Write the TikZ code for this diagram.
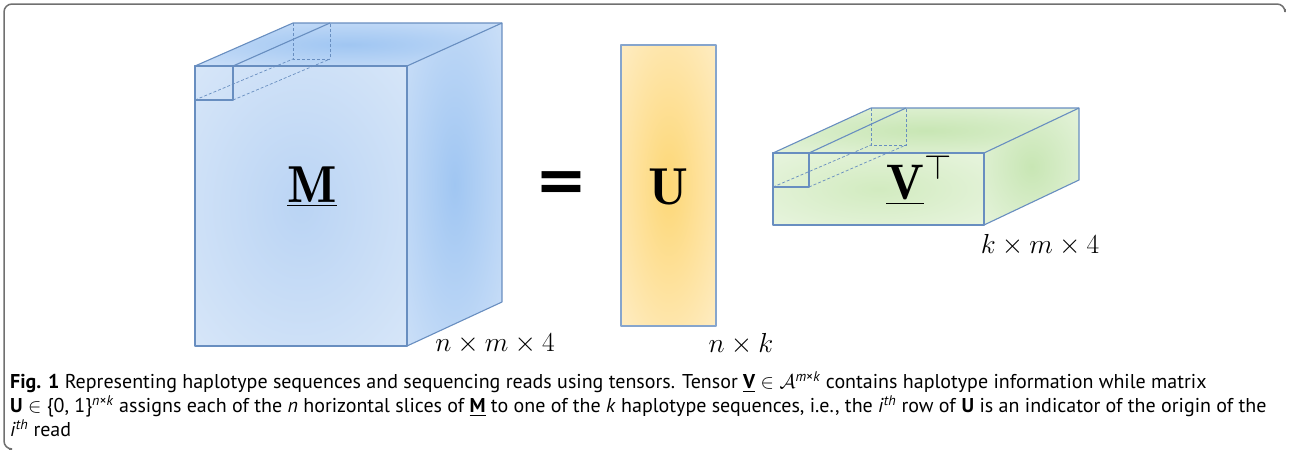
\RequirePackage{fix-cm}
\documentclass[tikz,border=0pt]{standalone}
\usepackage{fontspec}
\setsansfont{PT Sans}
\newfontfamily\eqfont{DejaVu Sans}
\usepackage{amsmath}
\usepackage{tikz}
\usetikzlibrary{positioning,calc}
\definecolor{TenEdge}{RGB}{104,142,192}
\definecolor{TenFrame}{RGB}{112,112,112}
\definecolor{MFrontIn}{RGB}{186,212,244}
\definecolor{MFrontOut}{RGB}{226,237,250}
\definecolor{MSideIn}{RGB}{160,198,242}
\definecolor{MSideOut}{RGB}{220,233,250}
\definecolor{VFrontIn}{RGB}{210,235,192}
\definecolor{VFrontOut}{RGB}{240,248,234}
\definecolor{VSideIn}{RGB}{200,230,180}
\definecolor{UGoldIn}{RGB}{253,215,118}
\definecolor{UGoldOut}{RGB}{255,245,226}
\pgfdeclareradialshading{mfront}{\pgfpoint{0bp}{0bp}}{color(0bp)=(MFrontIn); color(50bp)=(MFrontOut); color(72bp)=(MFrontOut)}
\pgfdeclareradialshading{mside}{\pgfpoint{0bp}{0bp}}{color(0bp)=(MSideIn); color(50bp)=(MSideOut); color(72bp)=(MSideOut)}
\pgfdeclareradialshading{vfront}{\pgfpoint{0bp}{0bp}}{color(0bp)=(VFrontIn); color(50bp)=(VFrontOut); color(72bp)=(VFrontOut)}
\pgfdeclareradialshading{vside}{\pgfpoint{0bp}{0bp}}{color(0bp)=(VSideIn); color(50bp)=(VFrontOut); color(72bp)=(VFrontOut)}
\pgfdeclareradialshading{ugold}{\pgfpoint{0bp}{0bp}}{color(0bp)=(UGoldIn); color(50bp)=(UGoldOut); color(72bp)=(UGoldOut)}

\begin{document}
\begin{tikzpicture}[x=1pt, y=-1pt]
  \tikzstyle{edge} = [draw=TenEdge, line width=1.1pt, line join=round]
  \tikzstyle{slice} = [draw=TenEdge, line width=0.7pt, densely dashed]
  \tikzstyle{bigsym} = [font=\fontsize{52}{52}\selectfont, inner sep=0pt]
  \tikzstyle{dims} = [font=\fontsize{27.5}{27.5}\selectfont, inner sep=0pt]
  \useasboundingbox (0,0) rectangle (1289,451);

  % frame round the figure
  \draw[TenFrame, line width=1.5pt, rounded corners=8pt] (1285,9) |- (4,4) |- (9,449);

  % tensor M
  \coordinate (mf) at (195,66);
  \coordinate (mb) at (293,23);
  \shade[shading=mfront] (mf) rectangle (407,346);
  \shade[shading=mside] (407,66) -- (502,23) -- (502,302) -- (407,346) -- cycle;
  \shade[shading=mside] (mf) -- (mb) -- (502,23) -- (407,66) -- cycle;
  \path[edge] (mf) rectangle (407,346);
  \path[edge] (407,66) -- (502,23) -- (502,302) -- (407,346);
  \path[edge] (mf) -- (mb) -- (502,23);
  \path[edge] (mf) rectangle (233,100);
  \path[edge] (233,66) -- (330,23);
  \path[slice] (mb) -- (293,59) -- (330,59) -- (330,23);
  \path[slice] (195,100) -- (293,59);
  \path[slice] (233,100) -- (330,59);
  \node[bigsym] (mlabel) at (312,187) {$\underline{\mathbf{M}}$};
  \node[dims] (mdims) at (495,344) {$n \times m \times 4$};

  \node[font=\fontsize{62}{62}\selectfont\eqfont\bfseries, inner sep=0pt] (equals) at (561,187) {=};

  % matrix U
  \shade[shading=ugold] (621,45) rectangle (716,326);
  \path[edge, draw=TenEdge!80] (621,45) rectangle (716,326);
  \node[bigsym] (ulabel) at (668,187) {$\mathbf{U}$};
  \node[dims] (udims) at (741,344) {$n \times k$};

  % tensor V
  \coordinate (vf) at (773,153);
  \coordinate (vb) at (871,108);
  \shade[shading=vfront] (vf) rectangle (984,225);
  \shade[shading=vside] (984,153) -- (1079,108) -- (1079,180) -- (984,225) -- cycle;
  \shade[shading=vside] (vf) -- (vb) -- (1079,108) -- (984,153) -- cycle;
  \path[edge] (vf) rectangle (984,225);
  \path[edge] (984,153) -- (1079,108) -- (1079,180) -- (984,225);
  \path[edge] (vf) -- (vb) -- (1079,108);
  \path[edge] (vf) rectangle (809,187);
  \path[edge] (809,153) -- (906,108);
  \path[slice] (vb) -- (871,145) -- (906,145) -- (906,108);
  \path[slice] (773,187) -- (871,145);
  \path[slice] (809,187) -- (906,145);
  \node[bigsym, font=\fontsize{50}{50}\selectfont] (vlabel) at (919,180) {$\underline{\mathbf{V}}^{\top}$};
  \node[dims] (vdims) at (1040,245) {$k \times m \times 4$};

  % caption
  \node[anchor=north west, align=left, inner sep=0pt,
        font=\fontsize{20}{24}\selectfont\sffamily] (caption) at (10,371)
    {\textbf{Fig. 1} Representing haplotype sequences and sequencing reads using tensors. Tensor \underline{\textbf{V}} $\in \mathcal{A}$\textsuperscript{\textit{m}×\textit{k}} contains haplotype information while matrix\\
     \textbf{U} $\in$ \{0, 1\}\textsuperscript{\textit{n}×\textit{k}} assigns each of the \textit{n} horizontal slices of \underline{\textbf{M}} to one of the \textit{k} haplotype sequences, i.e., the \textit{i}\textsuperscript{\textit{th}} row of \textbf{U} is an indicator of the origin of the\\
     \textit{i}\textsuperscript{\textit{th}} read};
\end{tikzpicture}
\end{document}
